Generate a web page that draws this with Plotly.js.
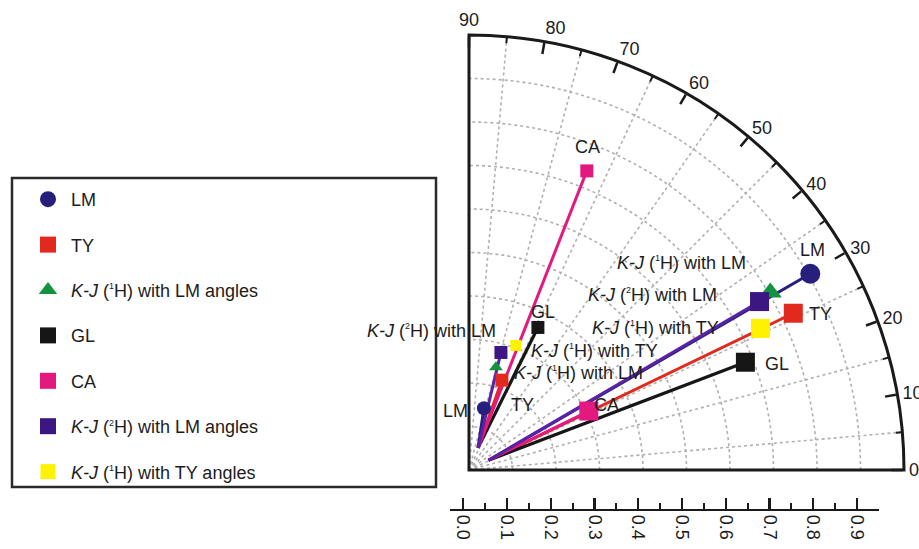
<!DOCTYPE html>
<html><head><meta charset="utf-8">
<script src="https://cdn.plot.ly/plotly-3.0.1.min.js"></script>
<style>html,body{margin:0;padding:0;background:#fff}#chart{width:919px;height:549px}</style>
</head><body><div id="chart"></div>
<script>
// ---------------- DATA ----------------
// index 0 = inner set (steep lines), index 1 = outer set (shallow lines)
const originR      = [0.055, 0.050];
const originTheta  = [67.8, 26.6];
const lmR          = [0.146, 0.905];
const lmTheta      = [76.4, 29.9];
const tyR          = [0.220, 0.828];
const tyTheta      = [69.9, 25.8];
const kj1hLmR      = [0.244, 0.804];
const kj1hLmTheta  = [75.3, 30.5];
const glR          = [0.364, 0.682];
const glTheta      = [64.2, 21.3];
const caR          = [0.739, 0.307];
const caTheta      = [68.5, 26.2];
const kj2hLmR      = [0.280, 0.772];
const kj2hLmTheta  = [74.8, 30.1];
const kj1hTyR      = [0.306, 0.745];
const kj1hTyTheta  = [69.4, 25.9];
const SUP1 = '<sup><span style="font-size:9px">1</span></sup>';
const SUP2 = '<sup><span style="font-size:9px">2</span></sup>';
const seriesNames  = ['LM', 'TY', '<i>K-J</i> (' + SUP1 + 'H) with LM angles', 'GL', 'CA',
                      '<i>K-J</i> (' + SUP2 + 'H) with LM angles', '<i>K-J</i> (' + SUP1 + 'H) with TY angles'];
const angleTicks   = [0, 10, 20, 30, 40, 50, 60, 70, 80, 90];
const radialTicks  = [0, 0.1, 0.2, 0.3, 0.4, 0.5, 0.6, 0.7, 0.8, 0.9];
const radialLabels = ['0.0', '0.1', '0.2', '0.3', '0.4', '0.5', '0.6', '0.7', '0.8', '0.9'];

// ---------------- STYLE ----------------
const W = 919, H = 549;
const FONT = 'Liberation Sans, Arial, sans-serif';
const C = {lm:'#26207c', ty:'#e2291d', kj1lm:'#13933d', gl:'#161616', ca:'#e4197f', kj2lm:'#3c1782', kj2line:'#5a22a6', kj1ty:'#fff200'};
const sizeByPoint = [13, 19];

const traces = [];
// lines (drawn in lower polar subplot)
function lineTraces(rArr, tArr, color, width) {
  for (let i = 0; i < rArr.length; i++) {
    traces.push({type:'scatterpolar', subplot:'polar', mode:'lines',
      r:[originR[i], rArr[i]], theta:[originTheta[i], tArr[i]],
      line:{color:color, width:width}, showlegend:false, hoverinfo:'skip'});
  }
}
lineTraces(lmR, lmTheta, C.lm, 3);
lineTraces(tyR, tyTheta, C.ty, 3);
lineTraces(glR, glTheta, C.gl, 3.2);
lineTraces(caR, caTheta, C.ca, 3);
lineTraces(kj2hLmR, kj2hLmTheta, C.kj2line, 3);

// markers (drawn in upper polar subplot) in legend order
function markerTrace(name, rArr, tArr, color, symbol, sizes) {
  traces.push({type:'scatterpolar', subplot:'polar2', mode:'markers', name:name,
    legendgroup:name, r:rArr, theta:tArr,
    marker:{color:color, symbol:symbol, size:sizes, opacity:1, line:{width:0}}});
}
markerTrace(seriesNames[0], lmR, lmTheta, C.lm, 'circle', [14, 20]);
markerTrace(seriesNames[1], tyR, tyTheta, C.ty, 'square', sizeByPoint);
markerTrace(seriesNames[2], kj1hLmR, kj1hLmTheta, C.kj1lm, 'triangle-up', [12, 20]);
markerTrace(seriesNames[3], glR, glTheta, C.gl, 'square', sizeByPoint);
markerTrace(seriesNames[4], caR, caTheta, C.ca, 'square', sizeByPoint);
markerTrace(seriesNames[5], kj2hLmR, kj2hLmTheta, C.kj2lm, 'square', sizeByPoint);
markerTrace(seriesNames[6], kj1hTyR, kj1hTyTheta, C.kj1ty, 'square', [11, 19]);

// cartesian carrier for the detached radial scale
traces.push({type:'scatter', x:[], y:[], xaxis:'x', yaxis:'y', showlegend:false, hoverinfo:'skip'});

// ---------------- LAYOUT ----------------
const dom = {x:[468/W, 905/W], y:[(H-470)/H, (H-35)/H]};
const P = (x, y) => ({x:x/W, y:1-y/H});
const labelFont = {family:FONT, size:18, color:'#1c1c1c'};
const labels = [
  {t:'LM', x:812, y:250, a:'center'},
  {t:'TY', x:807, y:314, a:'left'},
  {t:'GL', x:763, y:364, a:'left'},
  {t:'CA', x:606, y:405, a:'center'},
  {t:'CA', x:587, y:147, a:'center'},
  {t:'<i>K-J</i> (' + SUP1 + 'H) with LM', x:681, y:263, a:'center'},
  {t:'<i>K-J</i> (' + SUP2 + 'H) with LM', x:652, y:295, a:'center'},
  {t:'<i>K-J</i> (' + SUP1 + 'H) with TY', x:655, y:328, a:'center'},
  {t:'<i>K-J</i> (' + SUP2 + 'H) with LM', x:498, y:331, a:'right'},
  {t:'GL', x:543, y:312, a:'center'},
  {t:'<i>K-J</i> (' + SUP1 + 'H) with TY', x:529, y:351, a:'left'},
  {t:'<i>K-J</i> (' + SUP1 + 'H) with LM', x:512, y:373, a:'left'},
  {t:'LM', x:455, y:411, a:'center'},
  {t:'TY', x:522, y:405, a:'center'}
];
const annotations = labels.map(l => Object.assign(P(l.x, l.y), {
  xref:'paper', yref:'paper', text:l.t, showarrow:false, xanchor:l.a, yanchor:'middle', font:labelFont}));

const layout = {
  width:W, height:H, margin:{l:0, r:0, t:0, b:0},
  paper_bgcolor:'#fff', plot_bgcolor:'rgba(0,0,0,0)',
  font:{family:FONT, size:18, color:'#1c1c1c'},
  showlegend:true,
  legend:{x:25/W, y:1-181/H, xanchor:'left', yanchor:'top', bgcolor:'rgba(0,0,0,0)', borderwidth:0,
    tracegroupgap:19, traceorder:'grouped', itemwidth:36, font:{family:FONT, size:18, color:'#1c1c1c'}},
  polar:{domain:dom, sector:[0, 90], bgcolor:'#fff',
    radialaxis:{range:[0, 1], dtick:0.1, showgrid:true, griddash:'dot', gridcolor:'#b0b0b0', gridwidth:1.6,
      showline:false, showticklabels:false, ticks:''},
    angularaxis:{thetaunit:'degrees', direction:'counterclockwise', rotation:0, tickmode:'linear', tick0:5, dtick:10,
      showgrid:true, griddash:'dot', gridcolor:'#b0b0b0', gridwidth:1.6, showline:false, showticklabels:false,
      ticks:'inside', ticklen:6, tickwidth:2, tickcolor:'#1a1a1a'}},
  polar2:{domain:dom, sector:[0, 90], bgcolor:'rgba(0,0,0,0)',
    radialaxis:{range:[0, 1], showgrid:false, showline:false, showticklabels:false, ticks:''},
    angularaxis:{thetaunit:'degrees', direction:'counterclockwise', rotation:0, tickmode:'array', tickvals:angleTicks,
      ticktext:angleTicks.map(String), showgrid:false, showline:true, linecolor:'#1a1a1a', linewidth:3,
      ticks:'inside', ticklen:11, tickwidth:2.5, tickcolor:'#1a1a1a', tickfont:{family:FONT, size:18, color:'#1c1c1c'}}},
  xaxis:{domain:[450/W, 879/W], anchor:'y', range:[-0.03, 0.95], tickmode:'array', tickvals:radialTicks, ticktext:radialLabels,
    ticks:'inside', ticklen:11, tickwidth:2.2, tickcolor:'#1a1a1a', showline:true, linecolor:'#1a1a1a', linewidth:2.2,
    showgrid:false, zeroline:false, tickangle:90, tickfont:{family:FONT, size:18, color:'#1c1c1c'},
    minor:{tickmode:'linear', tick0:0, dtick:0.05, ticks:'inside', ticklen:6, tickwidth:2, tickcolor:'#1a1a1a', showgrid:false},
    fixedrange:true},
  yaxis:{domain:[(H-509)/H, (H-505)/H], visible:false, fixedrange:true},
  shapes:[{type:'rect', xref:'paper', yref:'paper', x0:12/W, x1:436/W, y0:1-487/H, y1:1-178/H,
    line:{color:'#2a2a2a', width:2.5}, fillcolor:'rgba(0,0,0,0)', layer:'below'}],
  annotations:annotations
};

Plotly.newPlot('chart', traces, layout, {displayModeBar:false, staticPlot:true});
</script></body></html>
